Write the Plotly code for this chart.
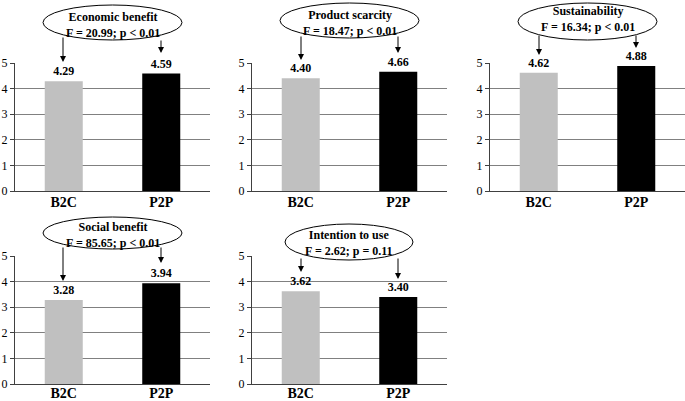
import plotly.graph_objects as go

# ---- data ----
constructs = ["Economic benefit", "Product scarcity", "Sustainability", "Social benefit", "Intention to use"]
f_stats = ["F = 20.99; p &lt; 0.01", "F = 18.47; p &lt; 0.01", "F = 16.34; p &lt; 0.01",
           "F = 85.65; p &lt; 0.01", "F = 2.62; p = 0.11"]
groups = ["B2C", "P2P"]
b2c_means = [4.29, 4.40, 4.62, 3.28, 3.62]
p2p_means = [4.59, 4.66, 4.88, 3.94, 3.40]
y_ticks = [0, 1, 2, 3, 4, 5]

# ---- layout geometry (pixels) ----
W, H = 685, 401
panel_x = [(15, 210), (252, 447), (490, 685), (15, 210), (252, 447)]
panel_y = [(63, 191), (63, 191), (63, 191), (256, 384), (256, 384)]
label_shift = [-2, -2, -2, -4, -4]
ellipses = [(43, 5, 182, 40), (280, 3, 419, 38), (518, 3, 657, 40), (43, 217, 182, 249), (285, 224, 413, 260)]
text_center = [25, 23, 19, 234.5, 242.5]
arrows = [((63, 36, 62), (161, 39, 53)),
          ((301, 35, 60), (398, 35, 53)),
          ((539, 34, 55), (636, 34, 48)),
          ((63, 246, 281), (161, 246, 263)),
          ((301, 257, 272), (398, 257, 279))]

SERIF = "Liberation Serif"
px = lambda x: x / W
py = lambda y: 1 - y / H

fig = go.Figure()
shapes, annotations = [], []
bar_colors = ["#c0c0c0", "#000000"]

for i in range(5):
    xa = "x" if i == 0 else f"x{i+1}"
    ya = "y" if i == 0 else f"y{i+1}"
    fig.add_trace(go.Bar(
        x=groups, y=[b2c_means[i], p2p_means[i]],
        marker=dict(color=bar_colors, line=dict(width=0)),
        width=0.39,
        texttemplate="%{y:.2f}", textposition="outside", cliponaxis=False,
        textfont=dict(family=SERIF, size=12, color="black", weight="bold"),
        xaxis=xa, yaxis=ya, showlegend=False, hoverinfo="skip"))
    xk = "xaxis" if i == 0 else f"xaxis{i+1}"
    yk = "yaxis" if i == 0 else f"yaxis{i+1}"
    x0, x1 = panel_x[i]
    yt, yb = panel_y[i]
    fig.update_layout(**{
        xk: dict(domain=[px(x0), px(x1)], anchor=ya, automargin=False,
                 showline=True, linecolor="#404040", linewidth=1,
                 ticks="", showgrid=False, zeroline=False, ticklabelstandoff=label_shift[i],
                 tickfont=dict(family=SERIF, size=14, color="black", weight="bold"), fixedrange=True),
        yk: dict(domain=[py(yb), py(yt)], anchor=xa, range=[0, 5], tickvals=y_ticks, automargin=False,
                 showline=True, linecolor="#404040", linewidth=1,
                 ticks="outside", ticklen=4, tickcolor="#404040",
                 showgrid=True, gridcolor="#808080", gridwidth=1, zeroline=False,
                 tickfont=dict(family=SERIF, size=12, color="black"), fixedrange=True),
    })
    ex0, ey0, ex1, ey1 = ellipses[i]
    shapes.append(dict(type="circle", xref="paper", yref="paper",
                       x0=px(ex0), x1=px(ex1), y0=py(ey1), y1=py(ey0),
                       line=dict(color="black", width=1), fillcolor="white", layer="above"))
    annotations.append(dict(xref="paper", yref="paper", x=px((ex0 + ex1) / 2), y=py(text_center[i]),
                            xanchor="center", yanchor="middle",
                            text=f"{constructs[i]}<br>{f_stats[i]}", showarrow=False, align="center",
                            font=dict(family=SERIF, size=12, color="black", weight="bold")))
    for (ax_x, y_tail, y_tip) in arrows[i]:
        annotations.append(dict(xref="paper", yref="paper", x=px(ax_x), y=py(y_tip),
                                ax=0, ay=-(y_tip - y_tail), text="", showarrow=True,
                                arrowhead=2, arrowsize=1.2, arrowwidth=1, arrowcolor="black",
                                standoff=0, startstandoff=0))

fig.update_layout(width=W, height=H, autosize=False, margin=dict(l=0, r=0, t=0, b=0, autoexpand=False),
                  paper_bgcolor="white", plot_bgcolor="white",
                  shapes=shapes, annotations=annotations, bargap=0.6)

css_fix = (
    "var h=document.documentElement.style;h.margin='0';h.padding='0';h.overflow='hidden';"
    "var b=document.body.style;b.margin='0';b.padding='0';b.overflow='hidden';"
)
fig.write_html("out.html", config={"displayModeBar": False, "responsive": False},
               post_script=css_fix)
